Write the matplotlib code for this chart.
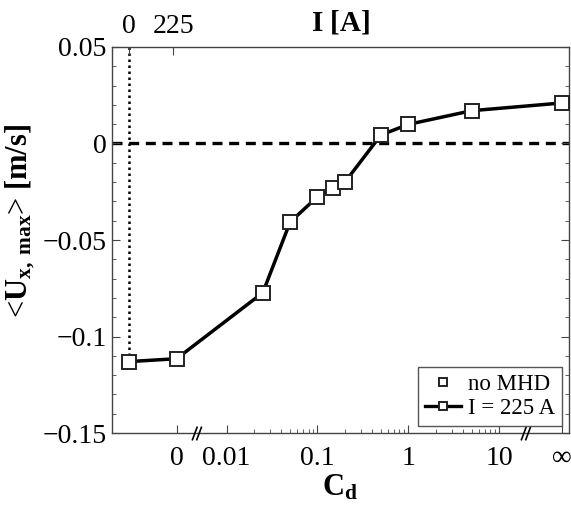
import numpy as np
import matplotlib
matplotlib.use("Agg")
import matplotlib.pyplot as plt
from matplotlib.path import Path

plt.rcParams['font.family'] = ['Liberation Serif', 'DejaVu Serif']
plt.rcParams['mathtext.fontset'] = 'custom'
plt.rcParams['mathtext.rm'] = 'Liberation Serif'
plt.rcParams['mathtext.it'] = 'Liberation Serif:italic'
plt.rcParams['mathtext.bf'] = 'Liberation Serif:bold'

# datos
cd = np.array([0, 0.025, 0.05, 0.1, 0.15, 0.2, 0.5, 1, 5, np.inf])
u_max = np.array([-0.1115, -0.0773, -0.0407, -0.0276, -0.0232, -0.0201,
                  0.0044, 0.0099, 0.0170, 0.0210])
u_no_mhd = -0.113

cd_ticks = [0, 0.01, 0.1, 1, 10, np.inf]
cd_ticklabels = ['0', '0.01', '0.1', '1', '10', '∞']
i_ticklabels = ['0', '225']

# eje x roto: posiciones en decadas, 0 e infinito a mano
X_NOMHD = -3.076
X_ZERO = -2.551
X_INF = 1.693
X_I225 = -2.59
BREAKS = [-2.34, 1.285]
XLIM = (-3.263, 1.77)


def xpos(c):
    c = np.atleast_1d(np.asarray(c, dtype=float))
    out = np.empty_like(c)
    for k, v in enumerate(c):
        if v == 0:
            out[k] = X_ZERO
        elif np.isinf(v):
            out[k] = X_INF
        else:
            out[k] = np.log10(v)
    return out


fig = plt.figure(figsize=(5.71, 5.08), dpi=100)
ax = fig.add_axes([0.1961, 0.1476, 0.8004, 0.7599])

x_line = np.concatenate([[X_NOMHD], xpos(cd)])
y_line = np.concatenate([[u_no_mhd], u_max])

ax.axhline(0, color='black', lw=2.4, dashes=(3, 2), zorder=1)
ax.plot([X_NOMHD, X_NOMHD], [0.05, u_no_mhd], color='black', lw=1.8,
        dashes=(1, 1.4), zorder=1)
ax.plot(x_line, y_line, color='black', lw=2.5, zorder=2)
ax.plot(x_line, y_line, ls='none', marker='s', ms=10, mfc='white',
        mec='#222222', mew=1.4, zorder=3, clip_on=False)

# leyenda
h1, = ax.plot([], [], ls='none', marker='s', ms=10, mfc='white',
              mec='#222222', mew=1.4)
h2, = ax.plot([], [], color='black', lw=2.4, marker='s', ms=10,
              mfc='white', mec='#222222', mew=1.4)
leg = ax.legend([h1, h2], ['no MHD', 'I = 225 A'], loc='lower right',
                fontsize=16.5, markerscale=0.62, handlelength=1.6,
                handletextpad=0.3, borderpad=0.3, labelspacing=0.15,
                borderaxespad=0.3, fancybox=False, framealpha=1)
leg.get_frame().set_edgecolor('#555555')
leg.get_frame().set_linewidth(1.0)

ax.set_xlim(*XLIM)
ax.set_ylim(-0.15, 0.05)

ax.set_xticks(xpos(cd_ticks))
ax.set_xticklabels(cd_ticklabels)
minor = [np.log10(k * 10.0**n) for n in (-2, -1, 0) for k in range(2, 10)]
ax.set_xticks(minor, minor=True)
ax.set_yticks([-0.15, -0.1, -0.05, 0, 0.05])
ax.set_yticklabels(['\u22120.15', '\u22120.1', '\u22120.05', '0', '0.05'])
ax.set_yticks(np.arange(-0.15, 0.0501, 0.01), minor=True)

ax.tick_params(axis='both', which='both', direction='in', labelsize=20,
               color='#444444')
ax.tick_params(axis='x', which='major', length=6, pad=9, top=False)
ax.tick_params(axis='x', which='minor', length=3, top=False)
ax.tick_params(axis='y', which='major', length=6, right=True, pad=4)
ax.tick_params(axis='y', which='minor', length=3, right=True)
for s in ax.spines.values():
    s.set_color('#444444')
    s.set_linewidth(1.0)

# marcas de corte en el eje
brk = Path([(-2.5, -4), (0.5, 4), (0.0, -4), (3.0, 4)],
           [Path.MOVETO, Path.LINETO, Path.MOVETO, Path.LINETO])
ax.plot(BREAKS, [-0.15, -0.15], ls='none', marker=brk, ms=10,
        mec='black', mew=1.2, clip_on=False, zorder=5)

ax.set_xlabel(r'$\mathbf{C_d}$', fontsize=22, labelpad=2)
ax.set_ylabel(r'$\mathbf{\text{<}U_{x,\ max}\text{>}\ [m/s]}$', fontsize=22)
ax.yaxis.set_label_coords(-0.165, 0.55)

ax2 = ax.twiny()
ax2.set_xlim(*XLIM)
ax2.set_xticks([X_NOMHD, X_I225])
ax2.set_xticklabels(i_ticklabels)
ax2.tick_params(axis='x', direction='in', length=6, labelsize=20, pad=6,
                color='#444444')
for s in ax2.spines.values():
    s.set_visible(False)
ax2.set_xlabel(r'$\mathbf{I\ [A]}$', fontsize=21)
ax2.xaxis.set_label_coords(0.5, 1.042)

fig.savefig('out.png', dpi=100)
